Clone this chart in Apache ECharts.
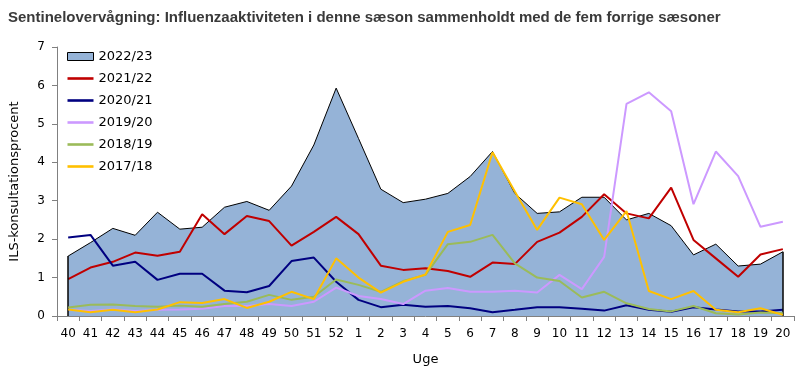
<!DOCTYPE html>
<html>
<head>
<meta charset="utf-8">
<script src="https://cdn.jsdelivr.net/npm/echarts@6/dist/echarts.min.js"></script>
<style>html,body{margin:0;padding:0;background:#fff}#c{width:800px;height:372px}</style>
</head>
<body>
<div id="c"></div>
<script>
const weeks = ['40','41','42','43','44','45','46','47','48','49','50','51','52','1','2','3','4','5','6','7','8','9','10','11','12','13','14','15','16','17','18','19','20'];
const s2022 = [1.56,1.91,2.28,2.10,2.70,2.26,2.31,2.83,2.98,2.75,3.38,4.45,5.93,4.62,3.30,2.95,3.04,3.19,3.63,4.28,3.19,2.67,2.71,3.09,3.09,2.50,2.67,2.35,1.59,1.87,1.30,1.35,1.67];
const s2021 = [0.96,1.26,1.41,1.65,1.57,1.67,2.65,2.13,2.60,2.47,1.83,2.19,2.58,2.13,1.31,1.20,1.24,1.17,1.02,1.39,1.35,1.93,2.17,2.58,3.17,2.67,2.54,3.34,1.98,1.50,1.02,1.60,1.74];
const s2020 = [2.04,2.11,1.31,1.41,0.94,1.10,1.10,0.66,0.62,0.78,1.43,1.52,0.89,0.42,0.23,0.29,0.24,0.26,0.20,0.10,0.16,0.23,0.23,0.19,0.14,0.28,0.16,0.11,0.23,0.17,0.12,0.12,0.16];
const s2019 = [0.16,0.13,0.17,0.13,0.16,0.17,0.19,0.26,0.26,0.31,0.26,0.37,0.74,0.52,0.44,0.31,0.66,0.73,0.63,0.63,0.66,0.61,1.07,0.70,1.54,5.52,5.82,5.33,2.91,4.28,3.64,2.32,2.45];
const s2018 = [0.22,0.29,0.30,0.26,0.24,0.27,0.24,0.31,0.37,0.55,0.42,0.50,0.95,0.81,0.63,0.91,1.07,1.87,1.93,2.11,1.37,1.00,0.91,0.48,0.63,0.33,0.18,0.12,0.26,0.07,0.04,0.09,0.07];
const s2017 = [0.17,0.10,0.16,0.10,0.17,0.36,0.34,0.44,0.21,0.37,0.63,0.44,1.50,1.00,0.61,0.89,1.08,2.19,2.37,4.26,3.24,2.24,3.08,2.91,1.98,2.73,0.65,0.44,0.65,0.16,0.10,0.20,0.03];
const seasonNames = ['2022/23','2021/22','2020/21','2019/20','2018/19','2017/18'];
const yTicks = [0,1,2,3,4,5,6,7];

const FONT = '"DejaVu Sans", sans-serif';
const chart = echarts.init(document.getElementById('c'), null, {renderer:'canvas'});
const lineColors = ['#C00000','#000080','#CC99FF','#9BBB59','#FFC000'];
const lineData = [s2021, s2020, s2019, s2018, s2017];
const last = weeks.length - 1;
const LINE_ICON = 'path://M0,0H26V2.6H0Z';

const series = [{
  name: seasonNames[0], type: 'line', data: s2022, symbol: 'none', showSymbol: false,
  lineStyle: {color:'#000', width:1}, itemStyle:{color:'#95B3D7'},
  areaStyle: {color:'#95B3D7', opacity:1},
  silent: true, z: 1,
  markLine: {
    silent: true, symbol: ['none','none'], label:{show:false},
    lineStyle: {color:'#000', width:1.5, type:'solid'},
    data: [
      [{coord:[weeks[0], 0]}, {coord:[weeks[0], s2022[0]]}],
      [{coord:[weeks[last], 0]}, {coord:[weeks[last], s2022[last]]}]
    ]
  }
}];
lineData.forEach((d,i) => {
  series.push({
    name: seasonNames[i+1], type:'line', data: d, symbol:'none', showSymbol:false,
    lineStyle:{color: lineColors[i], width:2}, itemStyle:{color: lineColors[i]},
    z: 2 + i
  });
});

chart.setOption({
  animation: false,
  title: {
    text: 'Sentineloverv\u00e5gning: Influenzaaktiviteten i denne s\u00e6son sammenholdt med de fem forrige s\u00e6soner',
    left: 3, top: 5,
    textStyle: {fontFamily:'"Liberation Sans", sans-serif', fontWeight:'bold', fontSize:15, color:'#3a3a3a'}
  },
  legend: {
    orient: 'vertical', left: 62, top: 45, itemWidth: 26, itemHeight: 8, itemGap: 9,
    textStyle: {fontFamily: FONT, fontSize: 13, color:'#000'},
    data: [
      {name: seasonNames[0], icon:'rect', itemStyle:{color:'#95B3D7', borderColor:'#000', borderWidth:1}},
      {name: seasonNames[1], icon: LINE_ICON},
      {name: seasonNames[2], icon: LINE_ICON},
      {name: seasonNames[3], icon: LINE_ICON},
      {name: seasonNames[4], icon: LINE_ICON},
      {name: seasonNames[5], icon: LINE_ICON}
    ]
  },
  grid: {left: 55, right: 6, top: 47, bottom: 56, containLabel: false},
  xAxis: {
    type:'category', data: weeks, boundaryGap: true,
    name: 'Uge', nameLocation:'middle', nameGap: 37,
    nameTextStyle: {fontFamily: FONT, fontSize: 13, color:'#000'},
    axisLine: {lineStyle:{color:'#808080', width:1}},
    axisTick: {show:true, interval:0, length:5, lineStyle:{color:'#808080'}},
    axisLabel: {interval:0, fontFamily: FONT, fontSize: 12, color:'#000', margin: 12}
  },
  yAxis: {
    type:'value', min: yTicks[0], max: yTicks[yTicks.length-1], interval: 1,
    name: 'ILS-konsultationsprocent', nameLocation:'middle', nameGap: 36,
    nameTextStyle: {fontFamily: FONT, fontSize: 13, color:'#000'},
    axisLine: {show:true, lineStyle:{color:'#808080', width:1}},
    axisTick: {show:true, length:5, lineStyle:{color:'#808080'}},
    splitLine: {show:false},
    axisLabel: {fontFamily: FONT, fontSize: 12, color:'#000', margin: 12}
  },
  series: series
});
</script>
</body>
</html>
